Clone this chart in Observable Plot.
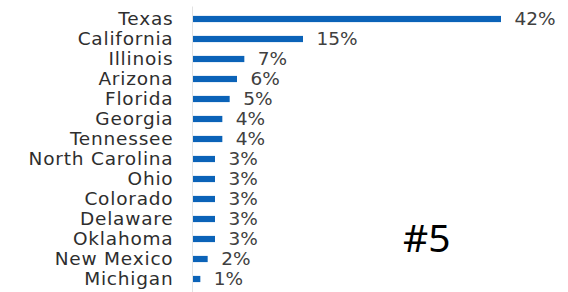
<!DOCTYPE html>
<html>
<head>
<meta charset="utf-8">
<script src="https://cdn.jsdelivr.net/npm/d3@7"></script>
<script src="https://cdn.jsdelivr.net/npm/@observablehq/plot@0.6"></script>
<style>
  html, body { margin: 0; padding: 0; background: #ffffff; }
  #wrap { position: relative; width: 568px; height: 292px; overflow: hidden; }
  #wrap svg { display: block; background: linear-gradient(to right, #ffffff 13px, #f2f2f2 13px); }
  #badge { position: absolute; left: 403px; top: 217px; font-family: "Noto Sans", sans-serif; font-size: 39px; color: #000; line-height: 1; }
</style>
</head>
<body>
<div id="wrap"><div id="badge">#5</div></div>
<script>
const states = ["Texas", "California", "Illinois", "Arizona", "Florida", "Georgia", "Tennessee",
  "North Carolina", "Ohio", "Colorado", "Delaware", "Oklahoma", "New Mexico", "Michigan"];
const shares = [42, 15, 7, 6, 5, 4, 4, 3, 3, 3, 3, 3, 2, 1];

const data = states.map((s, i) => ({state: s, value: shares[i]}));

const chart = Plot.plot({
  width: 568,
  height: 292,
  marginLeft: 193,
  marginRight: 67,
  marginTop: 6.5,
  marginBottom: 0,
  style: {background: "transparent", fontFamily: "DejaVu Sans, sans-serif", overflow: "visible"},
  x: {domain: [0, 42], axis: null},
  y: {domain: states, padding: 0, label: null},
  marks: [
    Plot.ruleX([0], {stroke: "#e2e2e2", dx: -1}),
    Plot.barX(data, {x: "value", y: "state", fill: "#0b63b8", insetTop: 6.9, insetBottom: 6.9}),
    Plot.text(data, {x: "value", y: "state", text: d => d.value + "%", textAnchor: "start", dx: 13, dy: 0,
      fill: "#404040", fontSize: 18.5}),
    Plot.axisY({tickSize: 0, tickPadding: 20, fontSize: 18.5, fill: "#2e2e2e", label: null, dy: 0})
  ]
});
chart.querySelectorAll('[aria-label="y-axis tick label"] text').forEach(t => t.setAttribute("letter-spacing", "0.8"));
document.getElementById("wrap").prepend(chart);
</script>
</body>
</html>
